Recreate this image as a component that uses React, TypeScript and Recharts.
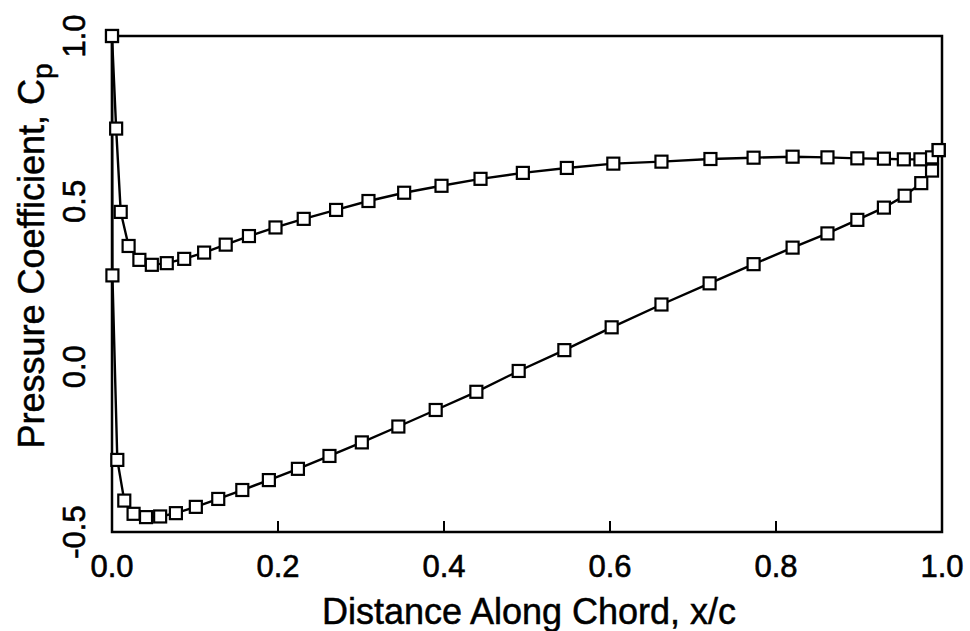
import { LineChart, Line, XAxis, YAxis, ReferenceArea, Label } from 'recharts'

// chordwise stations and Cp
const upperX = [0, 0.005, 0.0105, 0.02, 0.033, 0.048, 0.066, 0.087, 0.111, 0.137, 0.165, 0.197, 0.231, 0.27, 0.309, 0.352, 0.397, 0.444, 0.495, 0.548, 0.604, 0.662, 0.721, 0.773, 0.82, 0.862, 0.898, 0.93, 0.954, 0.974, 0.988, 0.996]
const upperCp = [1.0, 0.72, 0.468, 0.365, 0.323, 0.308, 0.313, 0.326, 0.345, 0.369, 0.395, 0.421, 0.447, 0.474, 0.501, 0.526, 0.547, 0.568, 0.586, 0.601, 0.614, 0.62, 0.628, 0.632, 0.635, 0.633, 0.63, 0.629, 0.627, 0.627, 0.633, 0.655]

const lowerX = [0, 0.0005, 0.0064, 0.0148, 0.026, 0.041, 0.058, 0.077, 0.101, 0.128, 0.157, 0.189, 0.224, 0.262, 0.301, 0.345, 0.39, 0.439, 0.49, 0.545, 0.602, 0.662, 0.72, 0.773, 0.82, 0.862, 0.898, 0.93, 0.955, 0.975, 0.988, 0.996]
const lowerCp = [1.0, 0.276, -0.282, -0.405, -0.445, -0.455, -0.453, -0.443, -0.424, -0.4, -0.373, -0.343, -0.309, -0.27, -0.229, -0.181, -0.131, -0.076, -0.013, 0.05, 0.119, 0.188, 0.252, 0.31, 0.36, 0.403, 0.444, 0.481, 0.517, 0.555, 0.593, 0.655]

const xTicks = [0, 0.2, 0.4, 0.6, 0.8, 1.0]
const xTickLabels = ['0.0', '0.2', '0.4', '0.6', '0.8', '1.0']
const yTicks = [-0.5, 0, 0.5, 1.0]
const yTickLabels = ['-0.5', '0.0', '0.5', '1.0']

const upperData = upperX.map((x, i) => ({ x, cp: upperCp[i] }))
const lowerData = lowerX.map((x, i) => ({ x, cp: lowerCp[i] }))

const FONT = '"Liberation Sans", Arial, Helvetica, sans-serif'

function XTick(props: any) {
  const { x, y, payload, index } = props
  const inner = payload.value > 0 && payload.value < 1
  return (
    <g>
      {inner && <line x1={x} y1={y} x2={x} y2={y - 11} stroke="#000" strokeWidth={2} />}
      <text x={x} y={y + 45} textAnchor="middle" fontFamily={FONT} fontSize={31} fill="#000" stroke="#000" strokeWidth={0.6}>
        {xTickLabels[index] ?? payload.value}
      </text>
    </g>
  )
}

function YTick(props: any) {
  const { x, y, payload } = props
  const i = yTicks.indexOf(payload.value)
  const tx = x - 27
  return (
    <text
      x={tx}
      y={y}
      transform={`rotate(-90, ${tx}, ${y})`}
      textAnchor="middle"
      fontFamily={FONT}
      fontSize={31}
      fill="#000"
      stroke="#000"
      strokeWidth={0.6}
    >
      {i >= 0 ? yTickLabels[i] : payload.value}
    </text>
  )
}

function square(props: any) {
  const { cx, cy, index } = props
  return <rect key={`sq-${index}`} x={cx - 6} y={cy - 6} width={12} height={12} fill="#fff" stroke="#000" strokeWidth={2.2} />
}

export default function App() {
  return (
    <div style={{ position: 'absolute', left: 0, top: 0, background: '#fff' }}>
      <LineChart width={970} height={631} margin={{ top: 36, right: 28, left: 0, bottom: 0 }}>
        <XAxis
          type="number"
          dataKey="x"
          domain={[0, 1]}
          ticks={xTicks}
          height={99}
          tickLine={false}
          tickSize={0}
          tickMargin={0}
          axisLine={false}
          tick={<XTick />}
          interval={0}
          allowDuplicatedCategory={false}
        >
          <Label
            content={() => (
              <text x={529} y={624} textAnchor="middle" fontFamily={FONT} fontSize={36} fill="#000" stroke="#000" strokeWidth={0.5}>
                Distance Along Chord, x/c
              </text>
            )}
          />
        </XAxis>
        <YAxis
          type="number"
          domain={[-0.5, 1]}
          ticks={yTicks}
          width={112}
          tickLine={false}
          tickSize={0}
          tickMargin={0}
          axisLine={false}
          tick={<YTick />}
          interval={0}
        >
          <Label
            content={() => (
              <text
                x={44}
                y={256}
                transform="rotate(-90, 44, 256)"
                textAnchor="middle"
                fontFamily={FONT}
                fontSize={36}
                fill="#000"
                stroke="#000"
                strokeWidth={0.5}
              >
                Pressure Coefficient, C
                <tspan dy={8} fontSize={28}>p</tspan>
              </text>
            )}
          />
        </YAxis>
        <ReferenceArea x1={0} x2={1} y1={-0.5} y2={1} fill="none" stroke="#000" strokeWidth={2.5} fillOpacity={0} ifOverflow="visible" />
        <Line
          data={lowerData}
          dataKey="cp"
          type="linear"
          stroke="#000"
          strokeWidth={2.4}
          dot={square}
          isAnimationActive={false}
        />
        <Line
          data={upperData}
          dataKey="cp"
          type="linear"
          stroke="#000"
          strokeWidth={2.4}
          dot={square}
          isAnimationActive={false}
        />
      </LineChart>
    </div>
  )
}
